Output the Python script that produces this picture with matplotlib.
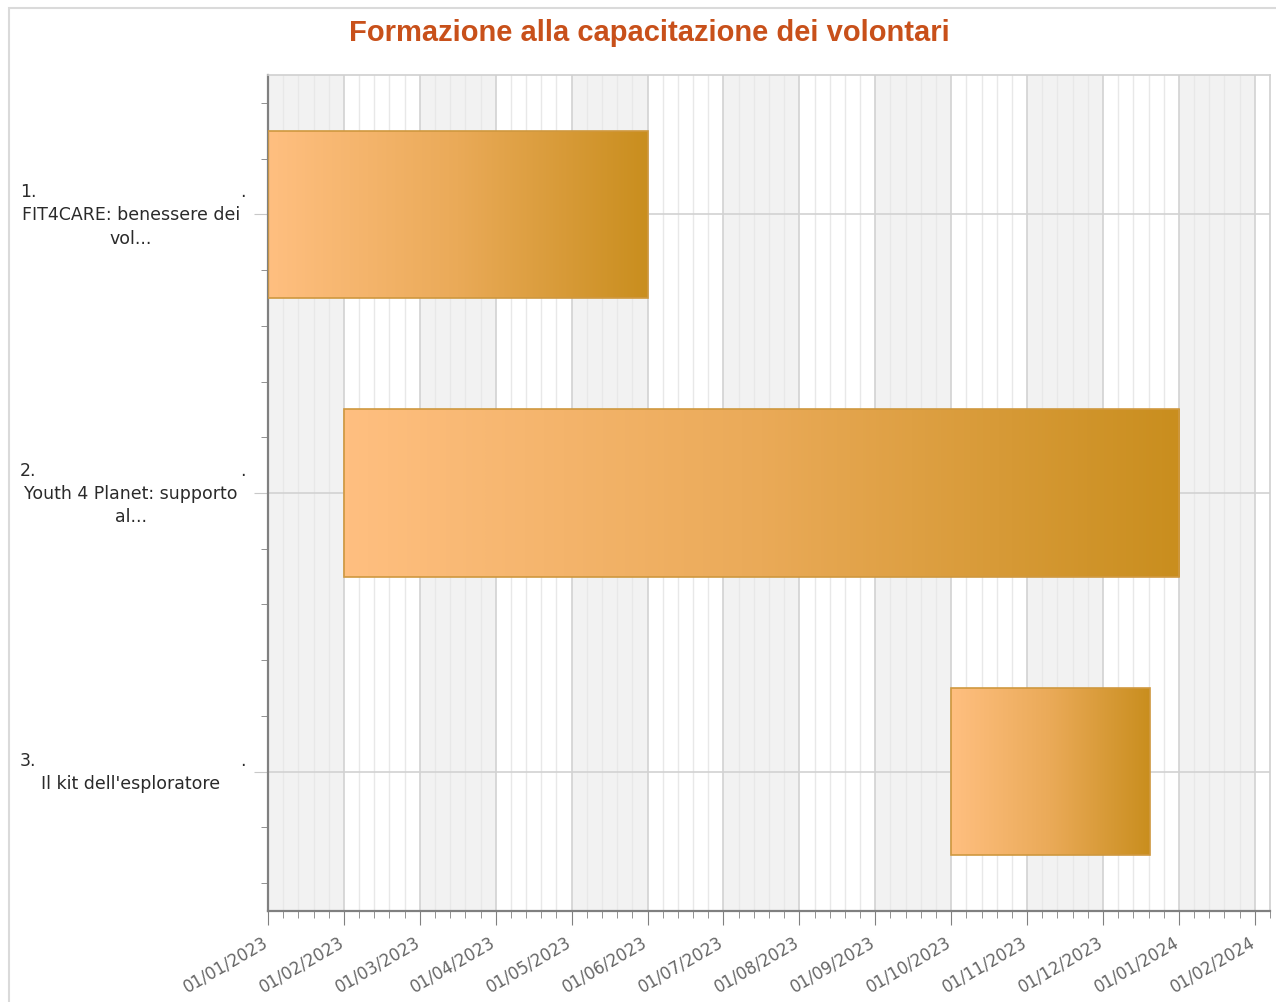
import matplotlib
matplotlib.use("Agg")
import matplotlib.pyplot as plt
import numpy as np
import calendar
from datetime import date
from matplotlib.transforms import blended_transform_factory
from matplotlib.patches import Rectangle
from matplotlib.colors import LinearSegmentedColormap

# ---------------- data ----------------
title = "Formazione alla capacitazione dei volontari"
task_numbers = ["1.", "2.", "3."]
task_names = ["FIT4CARE: benessere dei\nvol...",
              "Youth 4 Planet: supporto\nal...",
              "Il kit dell'esploratore"]
start_dates = ["2023-01-01", "2023-02-01", "2023-10-01"]
end_dates = ["2023-06-01", "2024-01-01", "2023-12-20"]
axis_start = "2023-01-01"
tick_labels = ["01/01/2023", "01/02/2023", "01/03/2023", "01/04/2023",
               "01/05/2023", "01/06/2023", "01/07/2023", "01/08/2023",
               "01/09/2023", "01/10/2023", "01/11/2023", "01/12/2023",
               "01/01/2024", "01/02/2024"]


def month_pos(s):
    """Position on a month-based axis (each month has equal width)."""
    d = date.fromisoformat(s)
    base = date.fromisoformat(axis_start)
    m = (d.year - base.year) * 12 + d.month - base.month
    return m + (d.day - 1) / calendar.monthrange(d.year, d.month)[1]


W, H = 1276, 1003
fig = plt.figure(figsize=(W / 100, H / 100), dpi=100)
ax = fig.add_axes([268 / W, 1 - 912 / H, (1270 - 268) / W, (912 - 76) / H])

n_ticks = len(tick_labels)
xmax = n_ticks - 1 + 0.2

# alternating month bands
for m in range(0, n_ticks, 2):
    ax.axvspan(m, min(m + 1, xmax), color="#f2f2f2", zorder=0, lw=0)

# grids
xt = np.arange(n_ticks)
ax.set_xticks(xt)
ax.set_xticks(np.arange(0, xmax + 1e-9, 0.2), minor=True)
ax.grid(which="minor", axis="x", color="#e8e8e8", lw=1, zorder=0.5)
ax.grid(which="major", axis="x", color="#d2d2d2", lw=1.2, zorder=0.6)
ypos = np.arange(len(task_names))
ax.set_yticks(ypos)
ax.set_yticks([v for v in np.arange(-0.4, 2.5, 0.2) if abs(v - round(v)) > 1e-6], minor=True)
ax.grid(which="major", axis="y", color="#d2d2d2", lw=1.2, zorder=0.6)
ax.set_axisbelow(True)

# bars with gradient fill
starts = np.array([month_pos(s) for s in start_dates])
ends = np.array([month_pos(s) for s in end_dates])
bars = ax.barh(ypos, ends - starts, left=starts, height=0.6,
               color="none", edgecolor="#cf983f", lw=1.2, zorder=3)
cmap = LinearSegmentedColormap.from_list("g", ["#ffbf80", "#eaaa58", "#c98e1e"])
grad = np.linspace(0, 1, 256).reshape(1, -1)
for b in bars:
    x0, y0 = b.get_x(), b.get_y()
    x1, y1 = x0 + b.get_width(), y0 + b.get_height()
    im = ax.imshow(grad, extent=[x0, x1, y1, y0], aspect="auto", cmap=cmap,
                   zorder=2.5, interpolation="bilinear")
    im.set_clip_path(b)

ax.set_xlim(0, xmax)
ax.set_ylim(2.5, -0.5)

# x tick labels (drawn as rotated annotations at each tick)
ax.tick_params(axis="x", which="major", length=10, color="#808080", labelbottom=False)
ax.tick_params(axis="x", which="minor", length=5, color="#808080")
ax.tick_params(axis="y", which="major", length=10, color="#c8c8c8", labelleft=False)
ax.tick_params(axis="y", which="minor", length=5, color="#808080")
xtr = blended_transform_factory(ax.transData, ax.transAxes)
for xv, lab in zip(xt, tick_labels):
    ax.annotate(lab, xy=(xv, 0), xycoords=xtr, xytext=(-6 * 0.72, -21 * 0.72),
                textcoords="offset points", rotation=30, ha="right", va="top",
                rotation_mode="anchor", fontsize=11.9, color="#666666",
                family="DejaVu Sans", annotation_clip=False)

for s in ["left", "bottom"]:
    ax.spines[s].set_color("#808080")
    ax.spines[s].set_linewidth(1.6)
for s in ["top", "right"]:
    ax.spines[s].set_color("#d0d0d0")
    ax.spines[s].set_linewidth(1.2)

# y labels: number line + name lines, centered block
tr = blended_transform_factory(fig.transFigure, ax.transData)
line_px = 23.5
lab_font = dict(fontsize=12.5, color="#2a2a2a", family="DejaVu Sans")
for i, (num, name) in enumerate(zip(task_numbers, task_names)):
    lines = name.split("\n")
    n = 1 + len(lines)
    offs = [(k - (n - 1) / 2) * line_px for k in range(n)]
    ax.annotate(num, xy=(20 / W, ypos[i]), xycoords=tr,
                xytext=(0, -offs[0] * 0.72), textcoords="offset points",
                ha="left", va="center", annotation_clip=False, **lab_font)
    ax.annotate(".", xy=(243 / W, ypos[i]), xycoords=tr,
                xytext=(0, -offs[0] * 0.72), textcoords="offset points",
                ha="center", va="center", annotation_clip=False, **lab_font)
    for k, ln in enumerate(lines):
        ax.annotate(ln, xy=(131 / W, ypos[i]), xycoords=tr,
                    xytext=(0, -offs[k + 1] * 0.72), textcoords="offset points",
                    ha="center", va="center", annotation_clip=False, **lab_font)

# title
fig.text(649 / W, 1 - 33 / H, title, ha="center", va="center", fontsize=21,
         fontweight="bold", color="#c8501a", family="Liberation Sans")

# outer frame
fig.add_artist(Rectangle((8.5 / W, -0.05), 1.2, 1.05 - 8.5 / H, transform=fig.transFigure,
                         fill=False, edgecolor="#dadada", lw=1.5))

fig.savefig("out.png", dpi=100)
